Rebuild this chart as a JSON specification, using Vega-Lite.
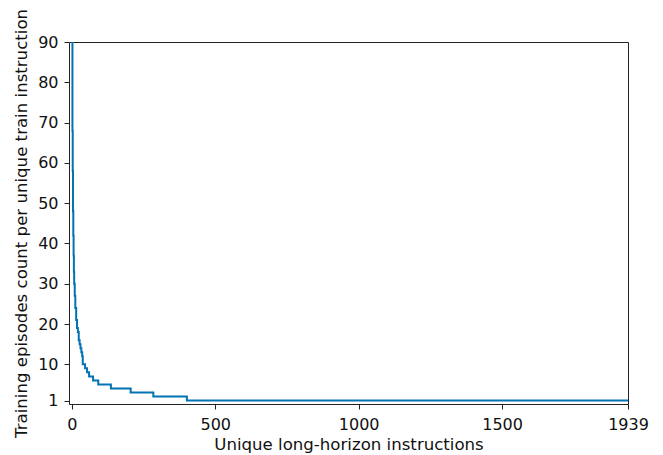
{
  "$schema": "https://vega.github.io/schema/vega-lite/v6.json",
  "width": 559,
  "height": 362,
  "autosize": {"type": "none"},
  "padding": {"left": 69, "top": 42, "right": 35, "bottom": 51},
  "background": "white",
  "config": {
    "view": {"stroke": "#222222", "strokeWidth": 1},
    "font": "DejaVu Sans",
    "axis": {
      "grid": false,
      "domain": false,
      "tickColor": "#222222",
      "tickSize": 5,
      "labelFont": "DejaVu Sans",
      "labelFontSize": 16,
      "labelColor": "#111111",
      "labelFlush": false,
      "titleFont": "DejaVu Sans",
      "titleFontSize": 16.6,
      "titleFontWeight": "normal",
      "titleColor": "#111111"
    }
  },
  "data": {
    "values": [
      {"x": 0, "y": 200},
      {"x": 1, "y": 90},
      {"x": 2, "y": 68},
      {"x": 3, "y": 58},
      {"x": 4, "y": 48},
      {"x": 5, "y": 42},
      {"x": 6, "y": 37},
      {"x": 7, "y": 33},
      {"x": 8, "y": 30},
      {"x": 10, "y": 27},
      {"x": 12, "y": 24},
      {"x": 15, "y": 21},
      {"x": 18, "y": 19},
      {"x": 21, "y": 18},
      {"x": 24, "y": 16},
      {"x": 27, "y": 15},
      {"x": 30, "y": 14},
      {"x": 33, "y": 13},
      {"x": 36, "y": 12},
      {"x": 38, "y": 10},
      {"x": 46, "y": 9},
      {"x": 53, "y": 8},
      {"x": 60, "y": 7},
      {"x": 74, "y": 6},
      {"x": 92, "y": 5},
      {"x": 136, "y": 4},
      {"x": 205, "y": 3},
      {"x": 284, "y": 2},
      {"x": 401, "y": 1},
      {"x": 1939, "y": 1}
    ]
  },
  "mark": {"type": "line", "interpolate": "step-after", "color": "#0173B2", "strokeWidth": 2, "clip": true},
  "encoding": {
    "x": {
      "field": "x",
      "type": "quantitative",
      "scale": {"domain": [-10, 1939], "nice": false, "zero": false},
      "axis": {"values": [0, 500, 1000, 1500, 1939], "format": "d", "title": "Unique long-horizon instructions", "titlePadding": 4, "labelPadding": 7}
    },
    "y": {
      "field": "y",
      "type": "quantitative",
      "scale": {"domain": [0.15, 90], "nice": false, "zero": false},
      "axis": {"values": [1, 10, 20, 30, 40, 50, 60, 70, 80, 90], "format": "d", "title": "Training episodes count per unique train instruction", "titlePadding": 8, "labelPadding": 6}
    }
  }
}
